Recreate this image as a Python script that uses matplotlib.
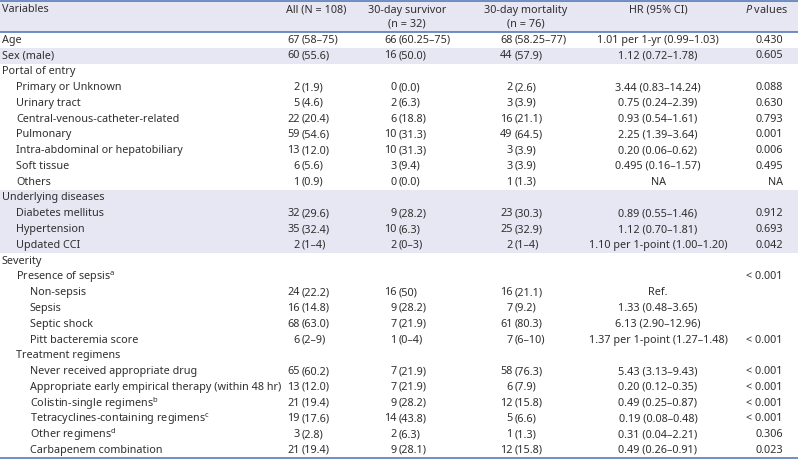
import matplotlib
matplotlib.use("Agg")
import matplotlib.pyplot as plt
from matplotlib.patches import Rectangle

plt.rcParams['font.family'] = ['Noto Sans', 'DejaVu Sans']
plt.rcParams['mathtext.fontset'] = 'custom'
plt.rcParams['mathtext.rm'] = 'Noto Sans'
plt.rcParams['mathtext.it'] = 'Noto Sans:italic'

# Table content
col_headers = ["All (N = 108)", "30-day survivor\n(n = 32)", "30-day mortality\n(n = 76)", "HR (95% CI)", r"$\mathit{P}$ values"]

labels = ["Age", "Sex (male)", "Portal of entry", "Primary or Unknown", "Urinary tract",
          "Central-venous-catheter-related", "Pulmonary", "Intra-abdominal or hepatobiliary",
          "Soft tissue", "Others", "Underlying diseases", "Diabetes mellitus", "Hypertension",
          "Updated CCI", "Severity", r"Presence of sepsis$^{\mathrm{a}}$", "Non-sepsis", "Sepsis",
          "Septic shock", "Pitt bacteremia score", "Treatment regimens",
          "Never received appropriate drug", "Appropriate early empirical therapy (within 48 hr)",
          r"Colistin-single regimens$^{\mathrm{b}}$", r"Tetracyclines-containing regimens$^{\mathrm{c}}$",
          r"Other regimens$^{\mathrm{d}}$", "Carbapenem combination"]
indent = [0, 0, 0, 1, 1, 1, 1, 1, 1, 1, 0, 1, 1, 1, 0, 1, 2, 2, 2, 2, 1, 2, 2, 2, 2, 2, 2]
shaded = [1, 10, 11, 12, 13]

all_n = ["67 (58–75)", "60 (55.6)", "", "2 (1.9)", "5 (4.6)", "22 (20.4)", "59 (54.6)", "13 (12.0)",
         "6 (5.6)", "1 (0.9)", "", "32 (29.6)", "35 (32.4)", "2 (1–4)", "", "", "24 (22.2)",
         "16 (14.8)", "68 (63.0)", "6 (2–9)", "", "65 (60.2)", "13 (12.0)", "21 (19.4)",
         "19 (17.6)", "3 (2.8)", "21 (19.4)"]
survivor = ["66 (60.25–75)", "16 (50.0)", "", "0 (0.0)", "2 (6.3)", "6 (18.8)", "10 (31.3)",
            "10 (31.3)", "3 (9.4)", "0 (0.0)", "", "9 (28.2)", "10 (6.3)", "2 (0–3)", "", "",
            "16 (50)", "9 (28.2)", "7 (21.9)", "1 (0–4)", "", "7 (21.9)", "7 (21.9)", "9 (28.2)",
            "14 (43.8)", "2 (6.3)", "9 (28.1)"]
mortality = ["68 (58.25–77)", "44 (57.9)", "", "2 (2.6)", "3 (3.9)", "16 (21.1)", "49 (64.5)",
             "3 (3.9)", "3 (3.9)", "1 (1.3)", "", "23 (30.3)", "25 (32.9)", "2 (1–4)", "", "",
             "16 (21.1)", "7 (9.2)", "61 (80.3)", "7 (6–10)", "", "58 (76.3)", "6 (7.9)",
             "12 (15.8)", "5 (6.6)", "1 (1.3)", "12 (15.8)"]
hr = ["1.01 per 1-yr (0.99–1.03)", "1.12 (0.72–1.78)", "", "3.44 (0.83–14.24)", "0.75 (0.24–2.39)",
      "0.93 (0.54–1.61)", "2.25 (1.39–3.64)", "0.20 (0.06–0.62)", "0.495 (0.16–1.57)", "NA", "",
      "0.89 (0.55–1.46)", "1.12 (0.70–1.81)", "1.10 per 1-point (1.00–1.20)", "", "", "Ref.",
      "1.33 (0.48–3.65)", "6.13 (2.90–12.96)", "1.37 per 1-point (1.27–1.48)", "",
      "5.43 (3.13–9.43)", "0.20 (0.12–0.35)", "0.49 (0.25–0.87)", "0.19 (0.08–0.48)",
      "0.31 (0.04–2.21)", "0.49 (0.26–0.91)"]
pvals = ["0.430", "0.605", "", "0.088", "0.630", "0.793", "0.001", "0.006", "0.495", "NA", "",
         "0.912", "0.693", "0.042", "", "< 0.001", "", "", "", "< 0.001", "", "< 0.001", "< 0.001",
         "< 0.001", "< 0.001", "0.306", "0.023"]

# Layout (pixel units)
W, H = 798, 465
text_c = "#2f2f2f"
shade_c = "#e6e7f3"
line_c = "#4a70b5"
fs = 7.8
row_h = 15.78
body_top = 32.3
paren_x = [302, 399, 515]   # numeric columns are aligned on the "("
hr_x = 658
p_x = 783
head_x = [316, 407, 526, 658, 766]

fig = plt.figure(figsize=(W / 100, H / 100), dpi=100)
ax = fig.add_axes([0, 0, 1, 1])
ax.set_xlim(0, W)
ax.set_ylim(H, 0)
ax.axis("off")

# header
ax.add_patch(Rectangle((0, 1), W, body_top - 1, color=shade_c, lw=0))
ax.text(2, 10, "Variables", fontsize=fs, color=text_c, va="center")
for hx, h in zip(head_x, col_headers):
    for k, p in enumerate(h.split("\n")):
        ax.text(hx, 10 + k * 14, p, fontsize=fs, color=text_c, ha="center", va="center")

# body
for i, lab in enumerate(labels):
    yc = body_top + (i + 0.5) * row_h
    if i in shaded:
        ax.add_patch(Rectangle((0, body_top + i * row_h), W, row_h, color=shade_c, lw=0))
    ax.text(2 + 14 * indent[i], yc, lab, fontsize=fs, color=text_c, va="center")
    for px, col in zip(paren_x, [all_n, survivor, mortality]):
        v = col[i]
        if not v:
            continue
        num, rest = v.split(" (")
        ax.text(px - 2.5, yc, num, fontsize=fs, color=text_c, ha="right", va="center")
        ax.text(px, yc, "(" + rest, fontsize=fs, color=text_c, ha="left", va="center")
    if hr[i]:
        ax.text(hr_x, yc, hr[i], fontsize=fs, color=text_c, ha="center", va="center")
    if pvals[i]:
        ax.text(p_x, yc, pvals[i], fontsize=fs, color=text_c, ha="right", va="center")

# rules
body_bot = body_top + len(labels) * row_h
for yy in [1, body_top, body_bot]:
    ax.plot([0, W], [yy, yy], color=line_c, lw=1.1, solid_capstyle="butt")

fig.savefig("out.png", dpi=100)
